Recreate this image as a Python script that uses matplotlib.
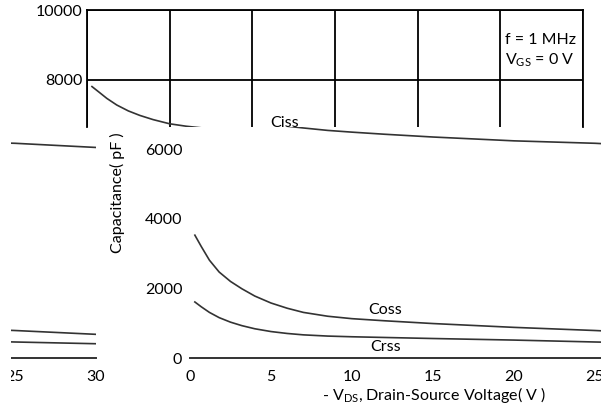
import matplotlib
matplotlib.use("Agg")
import matplotlib.pyplot as plt
from matplotlib.patches import Rectangle

plt.rcParams['font.family'] = ['Lato', 'DejaVu Sans']
plt.rcParams['mathtext.fontset'] = 'custom'
plt.rcParams['mathtext.rm'] = 'Lato'
plt.rcParams['mathtext.it'] = 'Lato:italic'
plt.rcParams['mathtext.bf'] = 'Lato:bold'

# ---- data ----
vds = [0.3, 0.7, 1.2, 1.8, 2.5, 3.2, 4, 5, 6, 7, 8.5, 10, 12, 15, 20, 25, 30]
ciss = [7800, 7650, 7460, 7270, 7100, 6970, 6850, 6730, 6660, 6610, 6540, 6490, 6430, 6350, 6240, 6170, 6050]
coss = [3530, 3200, 2810, 2470, 2200, 1990, 1780, 1580, 1430, 1310, 1200, 1130, 1070, 990, 880, 790, 680]
crss = [1610, 1470, 1310, 1160, 1030, 930, 840, 760, 705, 665, 630, 610, 590, 560, 515, 460, 410]
x_ticks = [0, 5, 10, 15, 20, 25, 30]
y_ticks = [0, 2000, 4000, 6000, 8000, 10000]

W, H = 601, 412
fig = plt.figure(figsize=(W / 100, H / 100), dpi=100)
fig.patch.set_facecolor('white')

def rect(x0, yt, x1, yb):
    return [x0 / W, 1 - yb / H, (x1 - x0) / W, (yb - yt) / H]

Y0 = 358.0          # pixel row of value 0
PPK = 34.8          # pixels per 1000 pF
CUT = 127.0         # tear line
vcut = (Y0 - CUT) / PPK * 1000

FS = 11.5
LC = '#333333'

# ---- top strip (gridded) ----
A = fig.add_axes(rect(87, 10, 583, CUT))
A.set_xticks(x_ticks)
A.set_yticks(y_ticks[3:])
A.set_xticklabels([])
A.set_yticklabels([str(v) for v in y_ticks[3:]], fontsize=FS)
A.set_xlim(0, 30)
A.set_ylim(vcut, 10000)
A.tick_params(length=0, pad=3.5)
A.grid(True, color='black', lw=1.3)
for s in ['left', 'top', 'right']:
    A.spines[s].set_linewidth(1.3)
A.spines['bottom'].set_visible(False)
A.plot(vds, ciss, color=LC, lw=1.2)
A.text(11.1, 6740, 'Ciss', fontsize=FS, va='center', ha='left', clip_on=True)
A.text(0.842, 0.74, 'f = 1 MHz', transform=A.transAxes, fontsize=FS, va='center', ha='left')
A.text(0.842, 0.57, r'V$_{\mathrm{GS}}$ = 0 V', transform=A.transAxes, fontsize=FS, va='center', ha='left')

# ---- bottom strip (shifted copy, plus wrapped copy) ----
def lower(x0, xlab, ylab):
    ax = fig.add_axes(rect(x0, CUT, x0 + 30 * 16.2, Y0))
    ax.set_facecolor('none')
    ax.set_xticks(xlab)
    ax.set_xticklabels([str(v) for v in xlab], fontsize=FS)
    ax.set_yticks(ylab)
    ax.set_yticklabels([str(v) for v in ylab], fontsize=FS)
    ax.set_xlim(0, 30)
    ax.set_ylim(0, vcut)
    ax.tick_params(axis='x', length=0, pad=8.5)
    ax.tick_params(axis='y', length=0, pad=5.5)
    for s in ['left', 'top', 'right']:
        ax.spines[s].set_visible(False)
    ax.spines['bottom'].set_color('#333333')
    ax.spines['bottom'].set_linewidth(1.4)
    ax.plot(vds, ciss, color=LC, lw=1.2)
    ax.plot(vds, coss, color=LC, lw=1.2)
    ax.plot(vds, crss, color=LC, lw=1.2)
    ax.text(11.1, 6740, 'Ciss', fontsize=FS, va='center', ha='left', clip_on=True)
    ax.text(11.0, 1380, 'Coss', fontsize=FS, va='center', ha='left', clip_on=True)
    ax.text(11.1, 330, 'Crss', fontsize=FS, va='center', ha='left', clip_on=True)
    return ax

B = lower(190, x_ticks[:6], y_ticks[:4])
C = lower(190 - 580, x_ticks[5:], [])

fig.text(117 / W, 1 - 193 / H, 'Capacitance( pF )', rotation=90, fontsize=FS,
         ha='center', va='center')
fig.text(434 / W, 1 - 395 / H, r'- V$_{\mathrm{DS}}$, Drain-Source Voltage( V )',
         fontsize=FS, ha='center', va='center')

fig.add_artist(Rectangle((0, 0), 11 / W, (H - CUT) / H, transform=fig.transFigure,
                         facecolor='white', edgecolor='none', zorder=10))

fig.savefig('out.png', dpi=100, facecolor='white')
